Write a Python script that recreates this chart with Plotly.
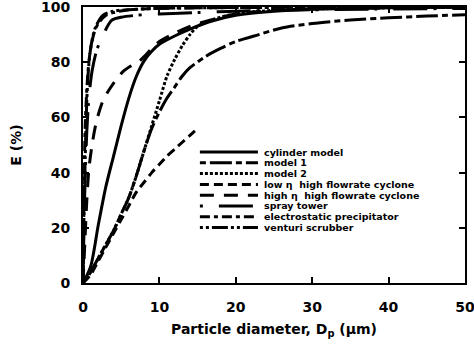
import plotly.graph_objects as go

# ---- data ----
series_names = [
    "cylinder model",
    "model 1",
    "model 2",
    "low \u03b7  high flowrate cyclone",
    "high \u03b7  high flowrate cyclone",
    "spray tower",
    "electrostatic precipitator",
    "venturi scrubber",
]

cyl_x = [0, 1, 2, 3, 4, 5, 6, 7, 8, 9, 10, 12, 14, 17, 20, 25, 30, 40, 50]
cyl_y = [0, 6, 21, 35, 46, 57, 67, 75, 80.5, 84, 86.5, 89.5, 92, 95, 97, 98.5, 99.2, 99.7, 100]

m1_x = [0, 1, 2, 3, 4, 5, 6, 7, 8, 9, 10, 11, 12, 13, 14, 16, 18, 20, 23, 26, 30, 35, 40, 45, 50]
m1_y = [0, 4, 9, 14, 19, 25, 31, 39, 48, 56, 62, 67, 71, 75, 78, 82, 85, 87.5, 90, 92.4, 94, 95.3, 96.1, 96.7, 97.2]

m2_x = [0, 1, 2, 3, 4, 5, 6, 7, 8, 9, 10, 11, 12, 13, 14, 15, 17, 20, 25, 30, 40, 50]
m2_y = [0, 4, 9, 14, 19, 25, 31, 39, 48, 57, 66, 75, 81, 86, 90, 93, 95.5, 97.5, 98.8, 99.3, 99.7, 100]

low_x = [0, 1, 2, 3, 4, 5, 6, 7, 8, 9, 10, 11, 12, 13, 14, 15]
low_y = [0, 3, 8, 13, 18, 23, 28, 33, 36.5, 40, 43, 46, 48.5, 51, 53.5, 56]

high_x = [0, 0.25, 0.5, 0.8, 1.3, 1.8, 2.6, 3.3, 3.9, 5.2, 6.2, 7.2, 8, 9, 10, 12, 14, 17, 20, 25, 30, 40, 50]
high_y = [0, 15, 30, 42, 52, 59, 66, 69.5, 72, 76.5, 78.5, 80, 82, 85, 87.5, 90.5, 93, 95.5, 97.5, 98.8, 99.4, 99.8, 100]

spray_x = [0, 0.2, 0.5, 0.8, 1.2, 1.8, 2.5, 3.3, 3.8, 5, 7, 10, 15, 20, 30, 50]
spray_y = [0, 30, 55, 68, 77, 84.4, 89, 93.5, 95.3, 96.3, 97, 97.5, 98, 98.5, 99, 99.5]

esp_x = [0, 0.1, 0.2, 0.3, 0.5, 0.7, 1, 1.5, 2, 3, 4, 6, 10, 20, 50]
esp_y = [0, 25, 45, 58, 70, 78, 85, 91, 94, 97, 98, 99, 99.5, 99.8, 100]

vent_x = [0, 0.1, 0.25, 0.4, 0.65, 1, 1.6, 2.6, 4, 6, 10, 20, 50]
vent_y = [0, 20, 40, 58, 75, 85, 92.4, 97, 98.5, 99, 99.5, 99.8, 100]

x_values = [cyl_x, m1_x, m2_x, low_x, high_x, spray_x, esp_x, vent_x]
y_values = [cyl_y, m1_y, m2_y, low_y, high_y, spray_y, esp_y, vent_y]

x_tick_vals = [0, 10, 20, 30, 40, 50]
y_tick_vals = [0, 20, 40, 60, 80, 100]

# ---- styles ----
dashes = [
    "solid",
    "6px,4px,22px,4px",
    "3px,2px",
    "9px,5px",
    "14px,10px",
    "3px,16px,34px,6px",
    "10px,4px,4px,4px",
    "3px,3px,3px,3px,16px,3px",
]

FONT = "DejaVu Sans"
fig = go.Figure()
for name, xs, ys, d in zip(series_names, x_values, y_values, dashes):
    fig.add_trace(go.Scatter(
        x=xs, y=ys, mode="lines", name=name,
        line=dict(color="black", width=3, dash=d, shape="spline", smoothing=0.8),
        showlegend=False,
    ))

# manual legend (line samples + labels)
row0 = 0.4746
step = 0.0391
for i, (name, d) in enumerate(zip(series_names, dashes)):
    yy = row0 - i * step
    fig.add_shape(type="line", xref="paper", yref="paper",
                  x0=0.306, x1=0.458, y0=yy, y1=yy,
                  line=dict(color="black", width=3, dash=d))
    fig.add_annotation(xref="paper", yref="paper", x=0.471, y=yy,
                       text=name, showarrow=False, xanchor="left", yanchor="middle",
                       borderpad=0,
                       font=dict(family=FONT, size=9.5, color="black", weight="bold"))

axis_common = dict(
    showgrid=False, zeroline=False, showline=True, linecolor="black", linewidth=2,
    mirror="ticks", ticks="inside", ticklen=6, tickwidth=1.5, tickcolor="black",
    automargin=False, ticklabeloverflow="allow",
    tickfont=dict(family=FONT, size=14, color="black", weight="bold"),
)
fig.update_xaxes(range=[0, 50], tickvals=x_tick_vals, ticklabelstandoff=10,
                 title=dict(text="Particle diameter, D<sub>p</sub> (\u03bcm)",
                            font=dict(family=FONT, size=14, color="black", weight="bold"),
                            standoff=10),
                 **axis_common)
fig.update_yaxes(range=[0, 100], tickvals=y_tick_vals, ticklabelstandoff=8,
                 title=dict(text="E (%)",
                            font=dict(family=FONT, size=14, color="black", weight="bold"),
                            standoff=16),
                 **axis_common)

fig.update_layout(
    width=474, height=351,
    margin=dict(l=83, r=9, t=7, b=68),
    plot_bgcolor="white", paper_bgcolor="white",
    font=dict(family=FONT, color="black"),
)
fig.write_html("out.html")
